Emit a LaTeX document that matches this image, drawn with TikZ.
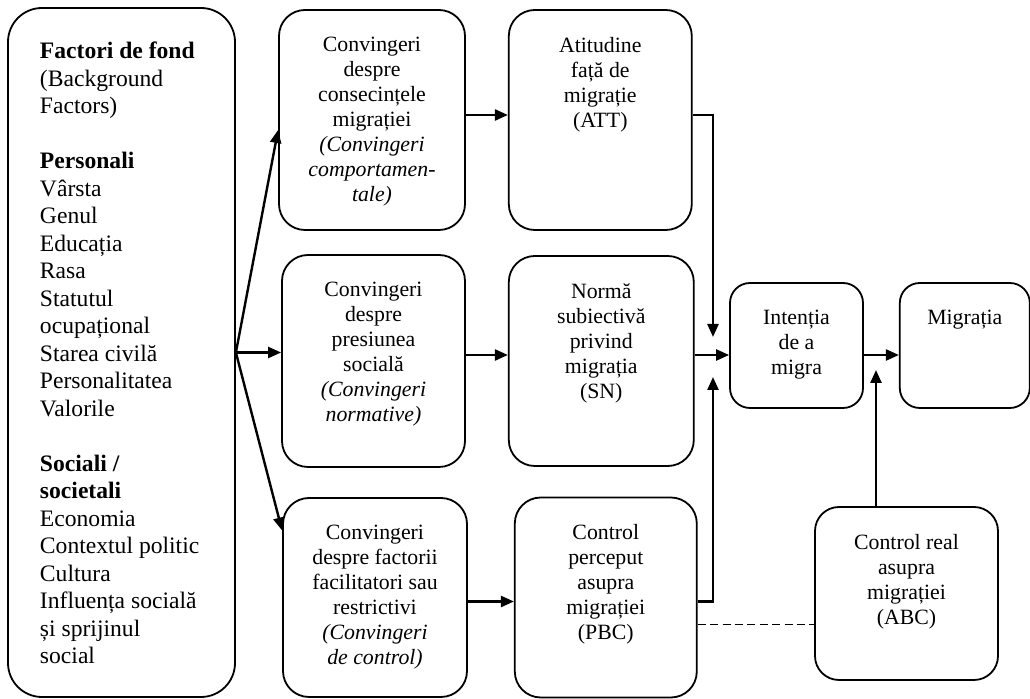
\documentclass[tikz,border=0pt]{standalone}
\usepackage{fontspec}
\setmainfont{Liberation Serif}
\usepackage{tikz}
\usetikzlibrary{arrows.meta,positioning}

\newcommand{\boxtext}[3]{\parbox[c][#2][t]{#1}{\centering\vspace*{13.6pt}#3}}

\begin{document}
\begin{tikzpicture}[x=0.5pt,y=-0.5pt,>={Triangle[length=6.5pt,width=5.5pt]},
	line width=1.2pt]
	\tikzstyle{bloc}=[draw,line width=0.9pt,rounded corners=13pt,inner sep=0pt,
	font=\fontsize{10.9}{12.5}\selectfont]
	\useasboundingbox (0,0) rectangle (1030,699);
	
	\node[bloc,rounded corners=17pt,font=\fontsize{11.8}{13.75}\selectfont] (F) at (121.5,352.5)
	{\parbox[c][344.5pt][t]{113.5pt}{\raggedright\leftskip=16pt\vspace*{17pt}%
			\textbf{Factori de fond}\\ (Background\\ Factors)\\[13.75pt]
			\textbf{Personali}\\ Vârsta\\ Genul\\ Educația\\ Rasa\\ Statutul\\ ocupațional\\
			Starea civilă\\ Personalitatea\\ Valorile\\[13.75pt]
			\textbf{Sociali /}\\ \textbf{societali}\\ Economia\\ Contextul politic\\ Cultura\\
			Influența socială\\ și sprijinul\\ social}};
	\node[bloc] (B1) at (372,120)
	{\boxtext{93pt}{110pt}{Convingeri\\ despre\\ consecințele\\ migrației\\
			\textit{(Convingeri\\ comportamen-\\ tale)}}};
	\node[bloc] (A) [right=21pt of B1]
	{\boxtext{91.5pt}{110pt}{Atitudine\\ față de\\ migrație\\ (ATT)}};
	\node[bloc] (B2) at (373.5,361)
	{\boxtext{91.5pt}{106pt}{Convingeri\\ despre\\ presiunea\\ socială\\
			\textit{(Convingeri\\ normative)}}};
	\node[bloc] (N) [right=21pt of B2]
	{\boxtext{92.5pt}{105pt}{Normă\\ subiectivă\\ privind\\ migrația\\ (SN)}};
	\node[bloc] (B3) at (375,597.5)
	{\boxtext{92pt}{99.5pt}{Convingeri\\ despre factorii\\ facilitatori sau\\ restrictivi\\
			\textit{(Convingeri\\ de control)}}};
	\node[bloc] (P) [right=23pt of B3]
	{\boxtext{91pt}{100pt}{Control\\ perceput\\ asupra\\ migrației\\ (PBC)}};
	\node[bloc,rounded corners=10pt] (I) at (796.5,345.5)
	{\boxtext{66.5pt}{62.5pt}{Intenția\\ de a\\ migra}};
	\node[bloc,rounded corners=10pt] (M) [right=17.5pt of I]
	{\boxtext{65pt}{62.5pt}{Migrația}};
	\node[bloc,rounded corners=12pt] (R) at (906.5,593.5)
	{\boxtext{91.5pt}{86.5pt}{Control real\\ asupra\\ migrației\\ (ABC)}};
	
	\coordinate (j) at (713,355);
	\coordinate (k) at (876,355);
	
	\draw[->] (F.east) -- ([yshift=-5pt]B1.west);
	\draw[->] (F.east) -- (F.east -| B2.west);
	\draw[->] (F.east) -- ([yshift=33.5pt]B3.west);
	\draw[->] ([yshift=2.5pt]B1.east) -- ([yshift=2.5pt]B1.east -| A.west);
	\draw[->] ([yshift=3pt]B2.east) -- ([yshift=3pt]B2.east -| N.west);
	\draw[->] ([yshift=-2pt]B3.east) -- ([yshift=-2pt]B3.east -| P.west);
	\draw[->] ([yshift=2.5pt]A.east) -| ([yshift=9pt]j);
	\draw[->] (N.east |- j) -- (j -| I.west);
	\draw[->] ([yshift=-2pt]P.east) -| ([yshift=-11pt]j);
	\draw[->] (I.east |- j) -- (j -| M.west);
	\draw[->] (R.north -| k) -- ([yshift=-7.5pt]k);
	\draw[line width=0.9pt,dash pattern=on 4pt off 2.2pt] ([yshift=-13.5pt]P.east)
	-- ([yshift=-13.5pt]P.east -| R.west);
\end{tikzpicture}
\end{document}
